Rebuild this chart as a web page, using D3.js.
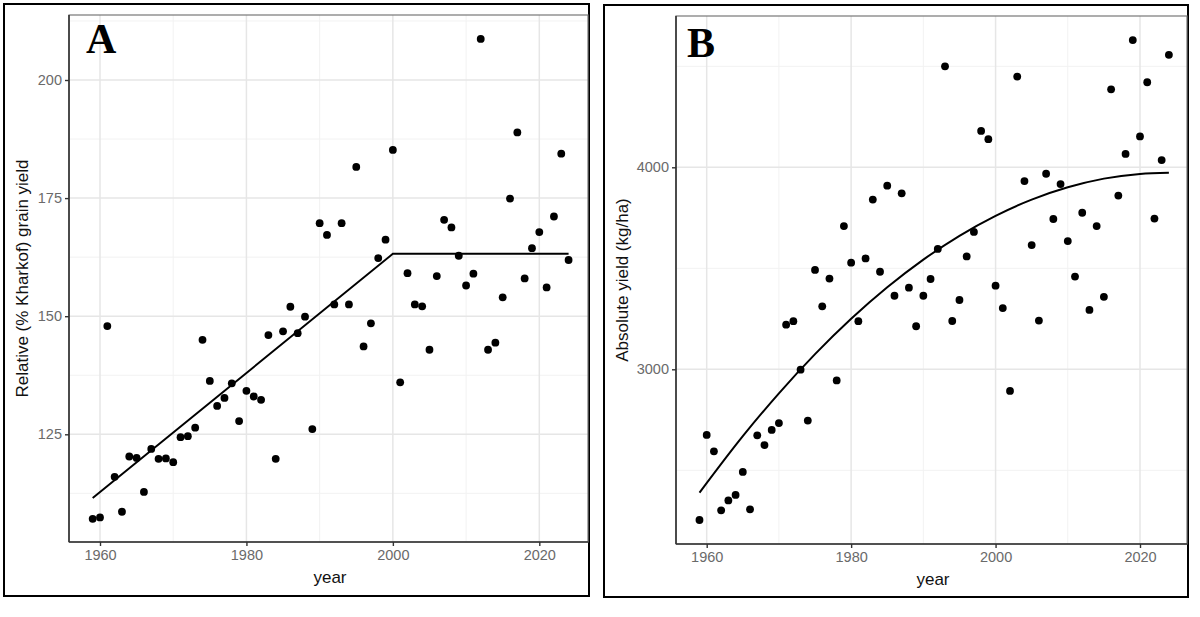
<!DOCTYPE html>
<html><head><meta charset="utf-8">
<script src="https://cdn.jsdelivr.net/npm/d3@7"></script>
<style>body{margin:0;background:#fff;} svg{display:block;}</style>
</head><body>
<svg id="c" width="1200" height="617"></svg>
<script>
// ---- Data ----
const years = d3.range(1959, 2025);
const relYield = [107.1,107.4,147.9,116.0,108.6,120.3,120.0,112.8,121.9,119.8,
  119.9,119.1,124.4,124.6,126.4,145.0,136.3,131.0,132.7,135.8,
  127.8,134.2,133.0,132.3,146.0,119.8,146.8,152.0,146.4,149.9,
  126.1,169.7,167.2,152.5,169.7,152.5,181.6,143.6,148.5,162.3,
  166.2,185.2,136.0,159.1,152.5,152.1,142.9,158.5,170.4,168.8,
  162.8,156.5,159.0,208.7,142.9,144.4,154.0,174.9,188.9,158.0,
  164.4,167.8,156.1,171.1,184.4,161.9];
const absYield = [2254,2675,2594,2302,2351,2378,2492,2307,2673,2625,
  2700,2734,3221,3238,2998,2746,3492,3312,3449,2945,
  3709,3528,3238,3549,3840,3483,3909,3364,3871,3404,
  3213,3364,3447,3596,4500,3239,3343,3559,3680,4180,
  4139,3414,3303,2893,4449,3932,3615,3241,3968,3744,
  3917,3635,3459,3775,3294,3709,3359,4386,3860,4066,
  4630,4153,4421,3746,4036,4557];
// segmented (broken-line) fit for panel A
const segYears = [1959, 2000, 2024];
const segValues = [111.5, 163.2, 163.2];
// quadratic fit for panel B
const fitYears = [1959,1965,1970,1975,1980,1985,1990,1995,2000,2005,2010,2015,2020,2024];
const fitValues = [2389,2669,2881,3075,3250,3406,3543,3661,3760,3840,3901,3944,3967,3973];
const xTicks = [1960, 1980, 2000, 2020];
const xMinor = [1970, 1990, 2010];
const yTicksA = [125, 150, 175, 200];
const yMinorA = [112.5, 137.5, 162.5, 187.5, 212.5];
const yTicksB = [3000, 4000];
const yMinorB = [2500, 3500, 4500];

const svg = d3.select("#c");
const font = "'Liberation Sans', Arial, sans-serif";

function panel(cfg){
  const g = svg.append("g");
  const {x, y, L, R, T, B} = cfg;
  const clipId = "clip" + cfg.id;
  svg.append("clipPath").attr("id", clipId).append("rect")
    .attr("x", L).attr("y", T).attr("width", R - L).attr("height", B - T);
  // outer frame
  g.append("rect").attr("x", cfg.frame[0]).attr("y", cfg.frame[1])
    .attr("width", cfg.frame[2]-cfg.frame[0]).attr("height", cfg.frame[3]-cfg.frame[1])
    .attr("fill", "#fff").attr("stroke", "#000").attr("stroke-width", 2);
  const grid = g.append("g").attr("clip-path", `url(#${clipId})`);
  // minor grid
  grid.selectAll(".vm").data(cfg.xMinor).join("line")
    .attr("x1", d => x(d)).attr("x2", d => x(d)).attr("y1", T).attr("y2", B)
    .attr("stroke", "#f2f2f2").attr("stroke-width", 1);
  grid.selectAll(".hm").data(cfg.yMinor).join("line")
    .attr("y1", d => y(d)).attr("y2", d => y(d)).attr("x1", L).attr("x2", R)
    .attr("stroke", "#f2f2f2").attr("stroke-width", 1);
  // major grid
  grid.selectAll(".vM").data(cfg.xTicks).join("line")
    .attr("x1", d => x(d)).attr("x2", d => x(d)).attr("y1", T).attr("y2", B)
    .attr("stroke", "#e6e6e6").attr("stroke-width", 1.5);
  grid.selectAll(".hM").data(cfg.yTicks).join("line")
    .attr("y1", d => y(d)).attr("y2", d => y(d)).attr("x1", L).attr("x2", R)
    .attr("stroke", "#e6e6e6").attr("stroke-width", 1.5);
  // panel border
  g.append("rect").attr("x", L).attr("y", T).attr("width", R - L).attr("height", B - T)
    .attr("fill", "none").attr("stroke", "#777").attr("stroke-width", 1.2);
  // axes
  const ax = g.append("g").attr("transform", `translate(0,${B})`)
    .call(d3.axisBottom(x).tickValues(cfg.xTicks).tickFormat(d3.format("d")).tickSize(4).tickPadding(4));
  const ay = g.append("g").attr("transform", `translate(${L},0)`)
    .call(d3.axisLeft(y).tickValues(cfg.yTicks).tickFormat(d3.format("d")).tickSize(4).tickPadding(3));
  [ax, ay].forEach(a => {
    a.select(".domain").attr("stroke", "#333").attr("stroke-width", 1.6);
    a.selectAll(".tick line").attr("stroke", "#333").attr("stroke-width", 1.4);
    a.selectAll(".tick text").attr("fill", "#6a6a6a").attr("font-size", 14.5).attr("font-family", font);
  });
  ax.select(".domain").attr("d", `M${L},0H${R}`);
  ay.select(".domain").attr("d", `M0,${T}V${B}`);
  // fit line
  const plot = g.append("g").attr("clip-path", `url(#${clipId})`);
  plot.append("path").datum(d3.zip(cfg.fitX, cfg.fitY))
    .attr("d", d3.line().x(d => x(d[0])).y(d => y(d[1])).curve(cfg.curve))
    .attr("fill", "none").attr("stroke", "#000").attr("stroke-width", 2);
  // points
  plot.selectAll("circle").data(d3.zip(years, cfg.values)).join("circle")
    .attr("cx", d => x(d[0])).attr("cy", d => y(d[1])).attr("r", 3.9).attr("fill", "#000");
  // labels
  g.append("text").attr("x", cfg.xlabX).attr("y", B + 41).attr("text-anchor", "middle")
    .attr("font-family", font).attr("font-size", 17).attr("fill", "#111").text("year");
  g.append("text").attr("transform", `translate(${cfg.ylabX},${(T + B) / 2}) rotate(-90)`)
    .attr("text-anchor", "middle").attr("font-family", font).attr("font-size", 17).attr("fill", "#111")
    .text(cfg.ylab);
  g.append("text").attr("x", cfg.tag[0]).attr("y", cfg.tag[1])
    .attr("font-family", "'Liberation Serif', 'Times New Roman', serif").attr("font-weight", "bold")
    .attr("font-size", 42).attr("fill", "#000").text(cfg.tagText);
}

panel({
  id: "A",
  x: d3.scaleLinear().domain([1960, 2020]).range([100, 539.3]),
  y: d3.scaleLinear().domain([125, 200]).range([434.3, 80]),
  L: 69, R: 588, T: 15, B: 542,
  frame: [4, 4, 589, 596],
  xTicks, xMinor, yTicks: yTicksA, yMinor: yMinorA,
  values: relYield, fitX: segYears, fitY: segValues, curve: d3.curveLinear,
  ylab: "Relative (% Kharkof) grain yield", ylabX: 28, xlabX: 330,
  tag: [86, 53], tagText: "A"
});

panel({
  id: "B",
  x: d3.scaleLinear().domain([1960, 2020]).range([706.7, 1140]),
  y: d3.scaleLinear().domain([3000, 4000]).range([369.3, 167.3]),
  L: 676, R: 1187, T: 16, B: 544,
  frame: [604, 5, 1188, 597],
  xTicks, xMinor, yTicks: yTicksB, yMinor: yMinorB,
  values: absYield, fitX: fitYears, fitY: fitValues, curve: d3.curveMonotoneX,
  ylab: "Absolute yield (kg/ha)", ylabX: 628, xlabX: 933,
  tag: [687, 57], tagText: "B"
});
</script>
</body></html>
